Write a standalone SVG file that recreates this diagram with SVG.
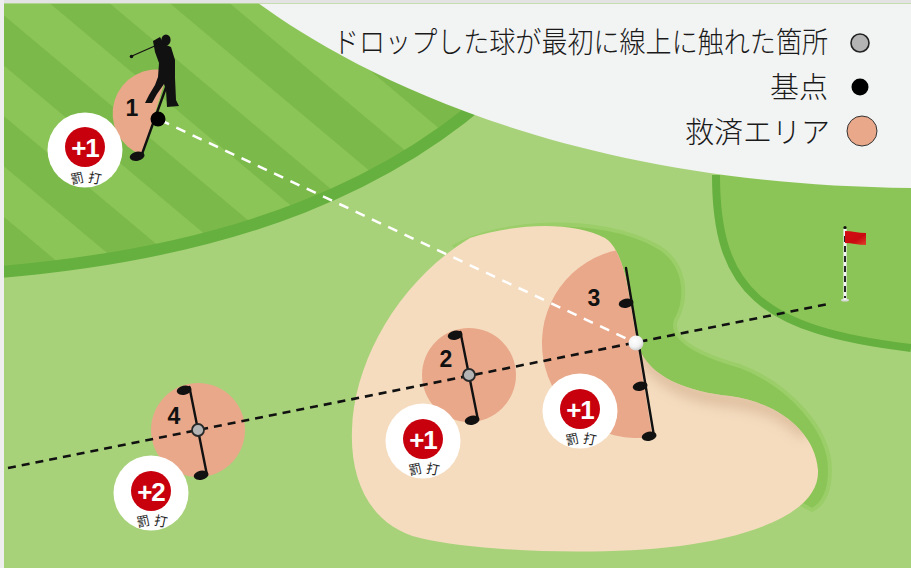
<svg xmlns="http://www.w3.org/2000/svg" width="911" height="568" viewBox="0 0 911 568">
  <style>
    .relief { fill: #e9a88a; }
    .club { fill: none; stroke: #111; stroke-width: 2.4; stroke-linecap: round; }
    .head { fill: #111; }
    .num { font-family: "Liberation Sans", Arial, sans-serif; font-weight: bold; font-size: 23px; fill: #111; text-anchor: middle; }
    .pen { font-family: "Liberation Sans", Arial, sans-serif; font-weight: bold; font-size: 26px; fill: #fff; text-anchor: middle; letter-spacing: -1px; }
    .pen-jp { font-family: "Noto Sans CJK JP", "Noto Sans", sans-serif; font-size: 13px; fill: #222; text-anchor: middle; }
    .legend { font-family: "Noto Sans CJK JP", "Noto Sans", sans-serif; font-weight: 300; font-size: 29px; fill: #1a1a1a; }
    .ref-dot { fill: #b4b4b4; stroke: #2a2a2a; stroke-width: 1.8; }
  </style>
  <defs>
    <pattern id="mowStripes" width="80" height="77.2" patternUnits="userSpaceOnUse" patternTransform="rotate(40) translate(0 9.2)">
      <rect width="80" height="38.6" fill="#7cb94b"/>
      <rect y="38.6" width="80" height="38.6" fill="#8cc557"/>
    </pattern>
    <radialGradient id="ballShade" cx="0.4" cy="0.35" r="0.7">
      <stop offset="0" stop-color="#ffffff"/>
      <stop offset="0.6" stop-color="#f2f2f2"/>
      <stop offset="1" stop-color="#c8c8c8"/>
    </radialGradient>
    <linearGradient id="flagShade" x1="0" y1="0" x2="1" y2="1">
      <stop offset="0" stop-color="#d40d12"/>
      <stop offset="0.6" stop-color="#c90a10"/>
      <stop offset="1" stop-color="#e0402a"/>
    </linearGradient>
    <filter id="soft" x="-20%" y="-40%" width="140%" height="180%">
      <feGaussianBlur stdDeviation="6"/>
    </filter>
    <clipPath id="sandClip">
      <path id="sandShape" d="M 470 238 C 520 222, 575 222, 605 238 C 625 250, 630 300, 638 345 C 648 378, 690 392, 730 396 C 775 402, 815 430, 818 470 C 820 510, 760 535, 680 546 C 600 556, 480 552, 420 538 C 370 526, 350 480, 352 430 C 354 360, 400 280, 470 238 Z"/>
    </clipPath>
    <!-- club head shape, drawn to the left of a shaft end -->
    <ellipse id="clubHead" cx="-6" cy="0" rx="7.5" ry="4.6" transform="rotate(-12)"/>
  </defs>

  <!-- rough / background -->
  <rect width="911" height="568" fill="#a8d27a"/>

  <!-- putting green -->
  <g id="green">
    <path d="M 716 175 C 716 290 760 330 911 348 V 170 Z" fill="#8cc557"/>
    <path d="M 716 175 C 716 290 760 330 911 348" fill="none" stroke="#66b03f" stroke-width="8"/>
  </g>

  <!-- fairway with mowing stripes -->
  <g id="fairway">
    <path d="M 0 0 H 600 L 560 20 C 420 200, 200 255, 0 272 Z" fill="url(#mowStripes)"/>
    <path d="M 0 272 C 200 255, 420 200, 560 20" fill="none" stroke="#66b03f" stroke-width="12"/>
  </g>

  <!-- legend panel -->
  <path d="M 258 3 C 350 70, 560 185, 911 188 V 0 H 258 Z" fill="#f2f3f3"/>
  <rect x="0" y="0" width="911" height="3" fill="#e3e3e3"/>
  <rect x="0" y="3" width="911" height="0.8" fill="#bcd7a0"/>
  <rect x="0" y="0" width="4" height="568" fill="#eeeeee"/>

  <!-- bunker -->
  <g id="bunker">
    <path d="M 455 246 C 500 220, 600 215, 655 245 C 688 262, 688 300, 676 320 C 670 336, 690 352, 740 366 C 790 385, 830 430, 830 470 C 830 495, 822 505, 812 510 L 700 450 L 500 300 Z" fill="#8cc557" stroke="#9bce69" stroke-width="4"/>
    <use href="#sandShape" fill="#f5dcbf"/>
    <g clip-path="url(#sandClip)">
      <path d="M 634 335 C 648 380, 690 396, 730 400 C 765 404, 790 416, 806 434" fill="none" stroke="#d6b594" stroke-width="14" opacity="0.75" filter="url(#soft)"/>
    </g>
  </g>

  <!-- relief areas -->
  <g id="relief-1"><path class="relief" d="M 168 71 A 44 44 0 0 0 142 155 Z"/></g>
  <g id="relief-2"><circle class="relief" cx="469" cy="375" r="47"/></g>
  <g id="relief-3" clip-path="url(#sandClip)"><path class="relief" d="M 621.6 249.2 A 95 95 0 0 0 652.4 436.8 Z"/></g>
  <g id="relief-4"><circle class="relief" cx="198" cy="430" r="47"/></g>

  <!-- connectors: ball flight and reference line -->
  <g id="connectors">
    <line x1="160" y1="120" x2="636" y2="343" stroke="#ffffff" stroke-width="2.5" stroke-dasharray="10 8"/>
    <line x1="8" y1="468" x2="828" y2="304" stroke="#111" stroke-width="2.6" stroke-dasharray="8 6"/>
  </g>

  <!-- measuring clubs -->
  <g id="clubs">
    <line class="club" x1="168" y1="82" x2="142" y2="154"/>
    <use href="#clubHead" class="head" transform="translate(143 155)"/>

    <line class="club" x1="460.4" y1="332" x2="477.6" y2="418"/>
    <use href="#clubHead" class="head" transform="translate(461 334)"/>
    <use href="#clubHead" class="head" transform="translate(478 419)"/>

    <line class="club" x1="626" y1="268" x2="654" y2="436"/>
    <use href="#clubHead" class="head" transform="translate(632 302)"/>
    <use href="#clubHead" class="head" transform="translate(646 385)"/>
    <use href="#clubHead" class="head" transform="translate(655 435)"/>

    <line class="club" x1="189.4" y1="387" x2="206.6" y2="473"/>
    <use href="#clubHead" class="head" transform="translate(190 389)"/>
    <use href="#clubHead" class="head" transform="translate(207 474)"/>
  </g>

  <!-- points -->
  <g id="points">
    <circle class="ref-dot" cx="469" cy="375" r="6"/>
    <circle class="ref-dot" cx="198" cy="430" r="6"/>
    <circle cx="158" cy="119" r="7.5" fill="#000"/>
    <circle cx="636" cy="343" r="7.5" fill="url(#ballShade)"/>
  </g>

  <!-- area numbers -->
  <g id="labels">
    <text class="num" x="132" y="116">1</text>
    <text class="num" x="446" y="367">2</text>
    <text class="num" x="594" y="306">3</text>
    <text class="num" x="174" y="424">4</text>
  </g>

  <!-- golfer -->
  <g id="golfer" fill="#111">
    <ellipse cx="166" cy="40" rx="4.6" ry="5.6"/>
    <line x1="157" y1="45" x2="132" y2="56" stroke="#111" stroke-width="1.2"/>
    <circle cx="131.5" cy="56.5" r="1.8"/>
    <path d="M 153 41 L 160 37 L 164 44 L 171 47 L 175 60 L 175 78 L 176 100 L 179 106 L 167 107 L 166 90 L 164 84 L 157 94 L 152 103 L 145 103 L 149 95 L 155 85 L 158 77 L 159 63 L 155 52 Z"/>
  </g>

  <!-- penalty badges -->
  <g id="badge-1">
    <circle cx="85" cy="150" r="37.5" fill="#fff"/>
    <circle cx="85" cy="147" r="20" fill="#c8000e"/>
    <text class="pen" x="85" y="156.5">+1</text>
    <text class="pen-jp" x="77" y="183" transform="rotate(-12 77 178)">罰</text>
    <text class="pen-jp" x="95" y="183" transform="rotate(12 95 178)">打</text>
  </g>
  <g id="badge-2">
    <circle cx="423" cy="441" r="37.5" fill="#fff"/>
    <circle cx="423" cy="439" r="20" fill="#c8000e"/>
    <text class="pen" x="423" y="448.5">+1</text>
    <text class="pen-jp" x="415" y="474" transform="rotate(-12 415 469)">罰</text>
    <text class="pen-jp" x="433" y="474" transform="rotate(12 433 469)">打</text>
  </g>
  <g id="badge-3">
    <circle cx="580" cy="411" r="37.5" fill="#fff"/>
    <circle cx="580" cy="409" r="20" fill="#c8000e"/>
    <text class="pen" x="580" y="418.5">+1</text>
    <text class="pen-jp" x="572" y="444" transform="rotate(-12 572 439)">罰</text>
    <text class="pen-jp" x="590" y="444" transform="rotate(12 590 439)">打</text>
  </g>
  <g id="badge-4">
    <circle cx="151" cy="493" r="37.5" fill="#fff"/>
    <circle cx="151" cy="491" r="20" fill="#c8000e"/>
    <text class="pen" x="151" y="500.5">+2</text>
    <text class="pen-jp" x="143" y="526" transform="rotate(-12 143 521)">罰</text>
    <text class="pen-jp" x="161" y="526" transform="rotate(12 161 521)">打</text>
  </g>

  <!-- flag -->
  <g id="flag">
    <ellipse cx="845" cy="300" rx="4" ry="1.6" fill="#d9d9d9"/>
    <line x1="845" y1="229" x2="845" y2="300" stroke="#f4f4f4" stroke-width="3.2"/>
    <line x1="845" y1="236" x2="845" y2="298" stroke="#111" stroke-width="1.8" stroke-dasharray="6 4"/>
    <circle cx="845" cy="227.5" r="1.6" fill="#111"/>
    <path d="M 845 231 C 852 231, 858 233, 866 233 L 866 245 C 858 245, 852 243, 845 243 Z" fill="url(#flagShade)"/>
  </g>

  <!-- legend -->
  <g id="legend">
    <text class="legend" x="333" y="53" textLength="495" lengthAdjust="spacingAndGlyphs">ドロップした球が最初に線上に触れた箇所</text>
    <circle cx="860" cy="43" r="9" fill="#b4b4b4" stroke="#222" stroke-width="1.6"/>
    <text class="legend" x="828" y="98" text-anchor="end" font-size="30">基点</text>
    <circle cx="860" cy="87" r="8.5" fill="#000"/>
    <text class="legend" x="830" y="143" text-anchor="end" font-size="30">救済エリア</text>
    <circle cx="862" cy="131" r="15" fill="#e9a88a" stroke="#333" stroke-width="1"/>
  </g>
</svg>
